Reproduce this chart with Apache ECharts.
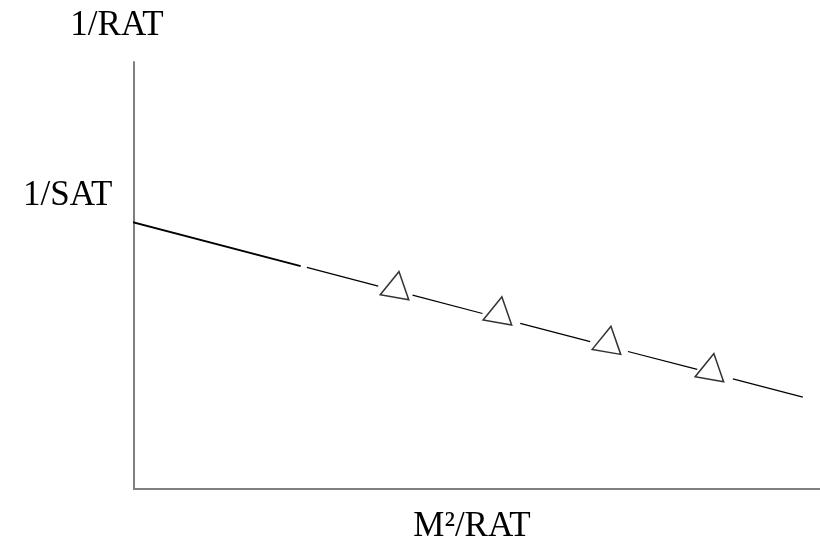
<!DOCTYPE html>
<html>
<head>
<meta charset="utf-8">
<script src="https://cdn.jsdelivr.net/npm/echarts@6/dist/echarts.min.js"></script>
<style>
html,body{margin:0;padding:0;background:#fff;}
#chart{width:820px;height:542px;}
</style>
</head>
<body>
<div id="chart"></div>
<script>
// Axis titles and intercept label
const xAxisTitle = 'M²/RAT';
const yAxisTitle = '1/RAT';
const interceptLabel = '1/SAT';

// Solid (extrapolated) part of the fitted line: [x, y]
const solidLine = [[-0.9, 62.8], [24.3, 52.2]];

// Broken (dashed) parts of the fitted line between the measurements: [x1, y1, x2, y2]
const brokenSegments = [
  [25.2, 51.9, 35.6, 47.5],
  [40.6, 45.4, 50.8, 41.1],
  [56.3, 38.8, 66.5, 34.5],
  [72.0, 32.2, 82.1, 28.0],
  [87.3, 25.8, 97.5, 21.5]
];

// Measured points (triangles)
const pointsX = [38.3, 53.3, 69.2, 84.2];
const pointsY = [47.9, 42.0, 35.1, 28.7];

const FONT = '"Liberation Serif", "Times New Roman", serif';

const series = [];
series.push({
  type: 'line',
  data: solidLine,
  showSymbol: false,
  clip: false,
  silent: true,
  lineStyle: { color: '#000', width: 2 }
});
brokenSegments.forEach(function (s) {
  series.push({
    type: 'line',
    data: [[s[0], s[1]], [s[2], s[3]]],
    showSymbol: false,
    clip: false,
    silent: true,
    lineStyle: { color: '#000', width: 1.2 }
  });
});
series.push({
  type: 'scatter',
  data: pointsX.map(function (x, i) { return [x, pointsY[i]]; }),
  symbol: 'triangle',
  symbolSize: [29, 26],
  symbolRotate: -10,
  silent: true,
  itemStyle: { color: 'rgba(255,255,255,0)', borderColor: '#000', borderWidth: 1.5 }
});

const chart = echarts.init(document.getElementById('chart'), null, { renderer: 'canvas' });
chart.setOption({
  animation: false,
  backgroundColor: '#fff',
  grid: { left: 134, right: 0, top: 62, bottom: 53, containLabel: false, outerBoundsMode: 'none' },
  xAxis: {
    type: 'value', min: 0, max: 100,
    name: xAxisTitle, nameLocation: 'middle', nameGap: 20,
    nameTextStyle: { fontFamily: FONT, fontSize: 35, color: '#000', padding: [0, 10, 0, 0] },
    axisLine: { show: true, lineStyle: { color: '#808080', width: 2 } },
    axisTick: { show: false }, axisLabel: { show: false }, splitLine: { show: false }
  },
  yAxis: {
    type: 'value', min: 0, max: 100,
    name: yAxisTitle, nameLocation: 'end', nameGap: 19,
    nameTextStyle: { fontFamily: FONT, fontSize: 35, color: '#000', padding: [0, 34, 0, 0] },
    axisLine: { show: true, lineStyle: { color: '#808080', width: 2 } },
    axisTick: { show: false }, axisLabel: { show: false }, splitLine: { show: false }
  },
  graphic: [{
    type: 'text',
    left: 23, top: 178,
    style: { text: interceptLabel, font: '35px ' + FONT, fill: '#000' }
  }],
  series: series
});
</script>
</body>
</html>
